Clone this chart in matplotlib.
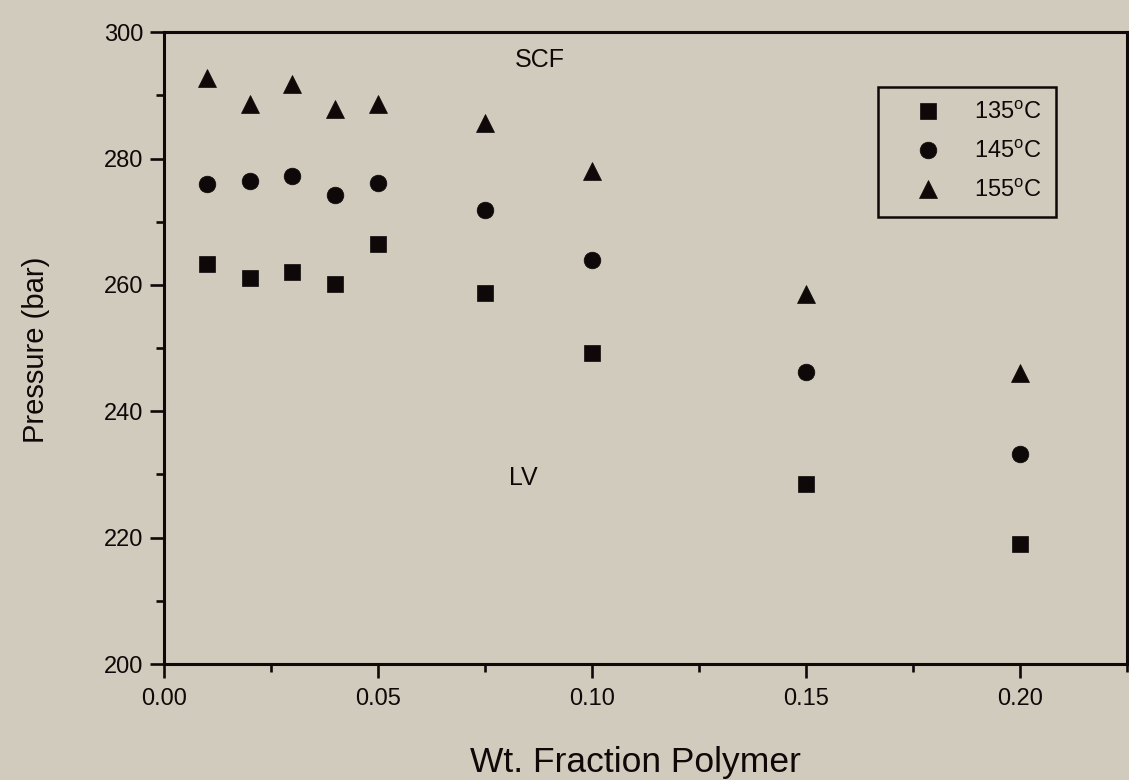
import matplotlib.pyplot as plt
from matplotlib.ticker import MultipleLocator, FormatStrFormatter

plt.rcParams['font.family'] = ['Liberation Sans', 'DejaVu Sans']
plt.rcParams['mathtext.fontset'] = 'custom'
plt.rcParams['mathtext.rm'] = 'Liberation Sans'

# Cloud point pressures vs polymer weight fraction
wt_frac = [0.01, 0.02, 0.03, 0.04, 0.05, 0.075, 0.10, 0.15, 0.20]
p_135 = [263.3, 261.1, 262.1, 260.2, 266.4, 258.8, 249.3, 228.5, 219.0]
p_145 = [276.0, 276.4, 277.2, 274.2, 276.2, 271.9, 264.0, 246.2, 233.2]
p_155 = [292.7, 288.7, 291.8, 287.9, 288.6, 285.6, 278.1, 258.6, 246.0]
labels = [r'135$^\mathregular{o}$C', r'145$^\mathregular{o}$C', r'155$^\mathregular{o}$C']

bg = '#d1cbbe'
ink = '#0e0808'

fig = plt.figure(figsize=(11.29, 7.80), dpi=100, facecolor=bg)
ax = fig.add_axes([0.1453, 0.1487, 0.853, 0.81], facecolor=bg)

ax.plot(wt_frac, p_135, 's', ms=11.5, color=ink, mew=0.5, label=labels[0])
ax.plot(wt_frac, p_145, 'o', ms=12, color=ink, mew=0.5, label=labels[1])
ax.plot(wt_frac, p_155, '^', ms=13.5, color=ink, mew=0.5, label=labels[2])

ax.text(0.0879, 295.6, 'SCF', fontsize=18, ha='center', va='center', color=ink)
ax.text(0.0839, 229.4, 'LV', fontsize=18, ha='center', va='center', color=ink)

ax.set_xlim(0, 0.225)
ax.set_ylim(200, 300)
ax.xaxis.set_major_locator(MultipleLocator(0.05))
ax.xaxis.set_minor_locator(MultipleLocator(0.025))
ax.xaxis.set_major_formatter(FormatStrFormatter('%.2f'))
ax.yaxis.set_major_locator(MultipleLocator(20))
ax.yaxis.set_minor_locator(MultipleLocator(10))

for s in ax.spines.values():
    s.set_linewidth(2.2)
    s.set_color(ink)
ax.tick_params(which='major', direction='out', length=10, width=1.9,
               labelsize=17, colors=ink, pad=5)
ax.tick_params(which='minor', direction='out', length=5.5, width=1.9, colors=ink)
ax.tick_params(axis='x', which='major', pad=7)

ax.set_xlabel('Wt. Fraction Polymer', fontsize=25.5, color=ink)
ax.set_ylabel('Pressure (bar)', fontsize=21, color=ink)
ax.xaxis.set_label_coords(0.490, -0.129)
ax.yaxis.set_label_coords(-0.118, 0.497)

leg = ax.legend(loc='upper left', bbox_to_anchor=(878 / 1129, 1 - 87 / 780),
                bbox_transform=fig.transFigure, borderaxespad=0, fontsize=17,
                numpoints=1, fancybox=False, framealpha=1, facecolor=bg,
                edgecolor=ink, borderpad=0.6, labelspacing=0.69,
                handlelength=3.05, handletextpad=0.42)
leg.get_frame().set_linewidth(1.8)
for t in leg.get_texts():
    t.set_color(ink)

fig.savefig('out.png', dpi=100, facecolor=bg)
